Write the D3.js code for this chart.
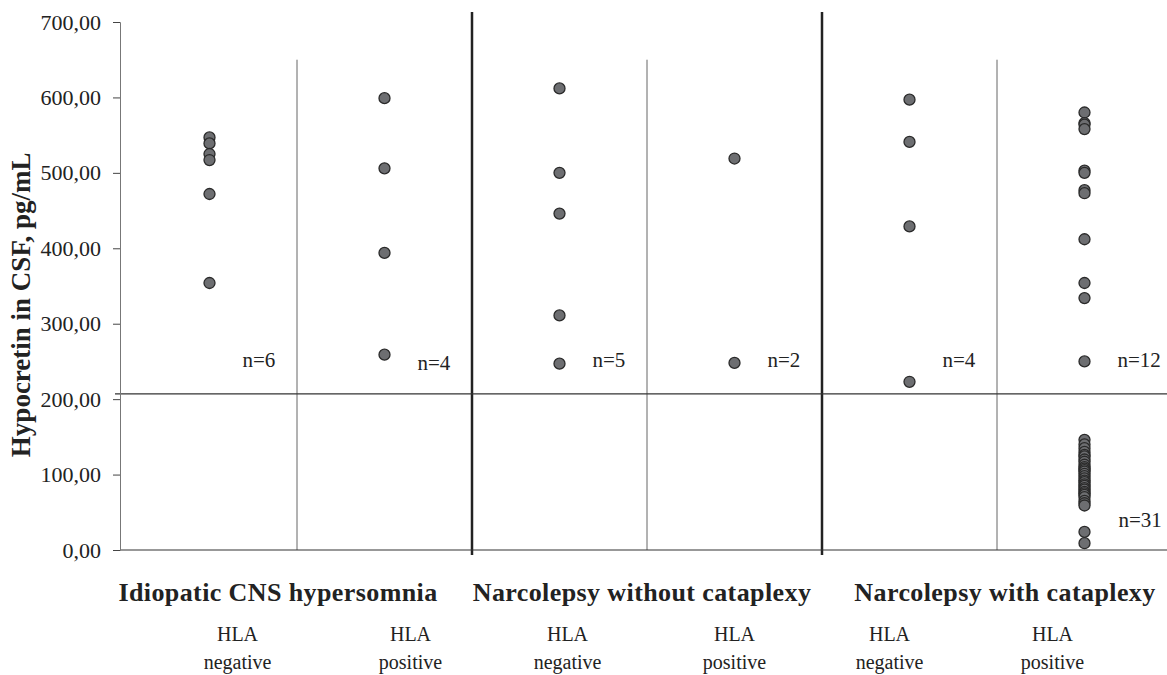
<!DOCTYPE html>
<html>
<head>
<meta charset="utf-8">
<script src="https://cdn.jsdelivr.net/npm/d3@7"></script>
<style>
  body { margin: 0; background: #fff; }
  text { font-family: "Liberation Serif", "Times New Roman", serif; fill: #222; }
</style>
</head>
<body>
<div id="chart"></div>
<script>
// groups and columns
const groupNames = ["Idiopatic CNS hypersomnia", "Narcolepsy without cataplexy", "Narcolepsy with cataplexy"];
const columnIds = ["ich_neg", "ich_pos", "nwoc_neg", "nwoc_pos", "nwc_neg", "nwc_pos"];
const hlaLabels = ["negative", "positive", "negative", "positive", "negative", "positive"];

// hypocretin values (pg/mL)
const ichNegative = [547, 539, 525, 517, 472, 354];
const ichPositive = [599, 506, 394, 259];
const nwocNegative = [612, 500, 446, 311, 247];
const nwocPositive = [519, 248];
const nwcNegative = [597, 541, 429, 223];
const nwcPositive = [580, 566, 564, 558, 503, 500, 477, 473, 412, 354, 334, 250,
    146, 140, 135, 130, 126, 124, 120, 117, 113, 110, 108, 106, 104, 101, 98, 95,
    92, 90, 87, 85, 82, 80, 77, 75, 73, 70, 65, 62, 59, 24, 9];

const nLabels = ["n=6", "n=4", "n=5", "n=2", "n=4", "n=12"];
const lowLabel = "n=31";
const cutoff = 207;
const yTicks = [0, 100, 200, 300, 400, 500, 600, 700];

const allValues = [ichNegative, ichPositive, nwocNegative, nwocPositive, nwcNegative, nwcPositive];

const width = 1167, height = 675;
const svg = d3.select("#chart").append("svg")
    .attr("width", width)
    .attr("height", height);

const x = d3.scaleBand()
    .domain(columnIds)
    .range([122, 1172]);

const y = d3.scaleLinear()
    .domain([0, 700])
    .range([550, 22]);

const axisLeftX = x.range()[0] - 2;
const cx = id => x(id) + x.bandwidth() / 2;

// divider lines between columns
const thin = [1, 3, 5].map(i => columnIds[i]);
svg.selectAll(".thin")
    .data(thin)
    .enter().append("line")
    .attr("x1", d => x(d))
    .attr("x2", d => x(d))
    .attr("y1", y(650))
    .attr("y2", y(0))
    .attr("stroke", "#666")
    .attr("stroke-width", 1);

const thick = [2, 4].map(i => columnIds[i]);
svg.selectAll(".thick")
    .data(thick)
    .enter().append("line")
    .attr("x1", d => x(d))
    .attr("x2", d => x(d))
    .attr("y1", 12)
    .attr("y2", y(0) + 5)
    .attr("stroke", "#222")
    .attr("stroke-width", 2.5);

// cut-off line
svg.append("line")
    .attr("x1", axisLeftX - 5)
    .attr("x2", width)
    .attr("y1", y(cutoff))
    .attr("y2", y(cutoff))
    .attr("stroke", "#333")
    .attr("stroke-width", 1.2);

// x baseline
svg.append("line")
    .attr("x1", axisLeftX)
    .attr("x2", width)
    .attr("y1", y(0))
    .attr("y2", y(0))
    .attr("stroke", "#333")
    .attr("stroke-width", 1.2);

// y axis
const yAxis = svg.append("g")
    .attr("transform", `translate(${axisLeftX},0)`)
    .call(d3.axisLeft(y)
        .tickValues(yTicks)
        .tickSize(7)
        .tickPadding(12)
        .tickFormat(d => d3.format(".2f")(d).replace(".", ",")));
yAxis.select(".domain").attr("stroke", "#777");
yAxis.selectAll(".tick line").attr("stroke", "#444");
yAxis.selectAll("text")
    .style("font-family", "Liberation Serif")
    .style("font-size", "22px")
    .attr("fill", "#222");

// y title
svg.append("text")
    .attr("transform", `translate(30,${y(325)}) rotate(-90)`)
    .attr("text-anchor", "middle")
    .style("font-size", "27px")
    .style("font-weight", "bold")
    .text("Hypocretin in CSF, pg/mL");

// points
const points = [];
allValues.forEach((vals, i) => vals.forEach(v => points.push({ col: columnIds[i], v })));
svg.selectAll(".dot")
    .data(points)
    .enter().append("circle")
    .attr("class", "dot")
    .attr("cx", d => cx(d.col))
    .attr("cy", d => y(d.v))
    .attr("r", 5.5)
    .attr("fill", "#6d6e71")
    .attr("stroke", "#2a2a2a")
    .attr("stroke-width", 1.3);

// n labels
svg.selectAll(".nlab")
    .data(nLabels)
    .enter().append("text")
    .attr("x", (d, i) => cx(columnIds[i]) + 33)
    .attr("y", (d, i) => y(i === 1 ? 238 : 243))
    .style("font-size", "21px")
    .text(d => d);

svg.append("text")
    .attr("x", cx(columnIds[5]) + 34)
    .attr("y", y(30))
    .style("font-size", "21px")
    .text(lowLabel);

// group labels
const groupShift = [-19, -5, 8];
svg.selectAll(".glab")
    .data(groupNames)
    .enter().append("text")
    .attr("x", (d, i) => x(columnIds[i * 2 + 1]) + groupShift[i])
    .attr("y", 601)
    .attr("text-anchor", "middle")
    .style("font-size", "26px")
    .style("font-weight", "bold")
    .style("letter-spacing", "0.4px")
    .text(d => d);

// HLA labels
const hlaShift = [28, 26, 8, 0, -20, -32];
svg.selectAll(".hla")
    .data(hlaLabels)
    .enter().append("text")
    .attr("x", (d, i) => cx(columnIds[i]) + hlaShift[i])
    .attr("y", 641)
    .attr("text-anchor", "middle")
    .style("font-size", "20px")
    .text("HLA");

svg.selectAll(".hla2")
    .data(hlaLabels)
    .enter().append("text")
    .attr("x", (d, i) => cx(columnIds[i]) + hlaShift[i])
    .attr("y", 669)
    .attr("text-anchor", "middle")
    .style("font-size", "20px")
    .text(d => d);
</script>
</body>
</html>
